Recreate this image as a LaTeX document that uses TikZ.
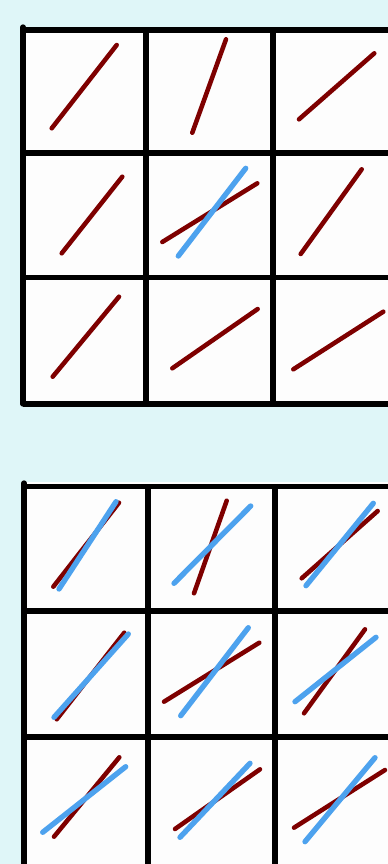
\documentclass[tikz,border=0pt]{standalone}
\usepackage{tikz}
\definecolor{bgcyan}{HTML}{DFF6F8}
\definecolor{cellwhite}{HTML}{FDFDFD}
\definecolor{lred}{HTML}{7E0000}
\definecolor{lblue}{HTML}{4DA2EE}
\tikzset{
  gridline/.style={line width=4pt, black},
  redseg/.style={line width=3.4pt, lred, line cap=round},
  blueseg/.style={line width=4pt, lblue, line cap=round},
}
\begin{document}
\begin{tikzpicture}[x=0.75pt,y=-0.75pt]
\useasboundingbox (0,0) rectangle (388,864);
\fill[bgcyan] (0,0) rectangle (388,864);
\begin{scope}
\clip (0,0) rectangle (388,864);
% ---------- top grid ----------
\fill[cellwhite] (23,30) rectangle (400,404);
\draw[gridline, line cap=round] (23,27) -- (23,404);
\draw[gridline] (23,404) -- (400,404);
\draw[gridline] (23,30) -- (400,30);
\draw[gridline] (23,153) -- (400,153);
\draw[gridline] (23,277.5) -- (400,277.5);
\draw[gridline] (146,30) -- (146,404);
\draw[gridline] (273,30) -- (273,404);
\draw[gridline] (398,30) -- (398,404);
% segments, top grid
\draw[redseg] (51.7,128.3) -- (116.7,45);
\draw[redseg] (192.3,132.7) -- (226,39.3);
\draw[redseg] (299,119.3) -- (374.3,53.3);
\draw[redseg] (61.7,253.3) -- (122.3,176.7);
\draw[redseg] (162.3,242) -- (257.3,183.3);
\draw[blueseg] (178.3,256) -- (245.7,168.3);
\draw[redseg] (300.7,254) -- (361.7,169.3);
\draw[redseg] (52.7,376.7) -- (119,296.7);
\draw[redseg] (172.3,368.3) -- (257.7,309);
\draw[redseg] (293.3,369.3) -- (383.3,311.7);
% ---------- bottom grid ----------
\fill[white] (24,481.7) rectangle (400,485);
\fill[cellwhite] (24,486.5) rectangle (400,870);
\draw[gridline, line cap=round] (24,483) -- (24,870);
\draw[gridline] (24,486.5) -- (400,486.5);
\draw[gridline] (24,611) -- (400,611);
\draw[gridline] (24,737) -- (400,737);
\draw[gridline] (148,486.5) -- (148,870);
\draw[gridline] (275,486.5) -- (275,870);
\draw[gridline] (400,486.5) -- (400,870);
% segments, bottom grid
\draw[redseg] (53.3,586.7) -- (119,502.7);
\draw[blueseg] (59,589) -- (116,501.7);
\draw[redseg] (194,593.3) -- (226.7,500.7);
\draw[blueseg] (174,583.3) -- (250.7,506);
\draw[redseg] (301.7,578.3) -- (377.7,511);
\draw[blueseg] (306,585.7) -- (373.3,503.3);
\draw[redseg] (56.7,719.3) -- (124.3,632.7);
\draw[blueseg] (54,717.3) -- (128.3,634);
\draw[redseg] (164,701.7) -- (259.3,642.7);
\draw[blueseg] (180.7,715.7) -- (248.3,627.7);
\draw[redseg] (304,713.3) -- (365,629.3);
\draw[blueseg] (295,701.7) -- (376,637.3);
\draw[redseg] (54,836.7) -- (119.3,757.3);
\draw[blueseg] (42.7,832.3) -- (125.7,766.7);
\draw[redseg] (175,829) -- (260,769.3);
\draw[blueseg] (180,837.3) -- (250,763.3);
\draw[redseg] (294,827.7) -- (385,770);
\draw[blueseg] (305,841.7) -- (375,757.7);
\end{scope}
\end{tikzpicture}
\end{document}
